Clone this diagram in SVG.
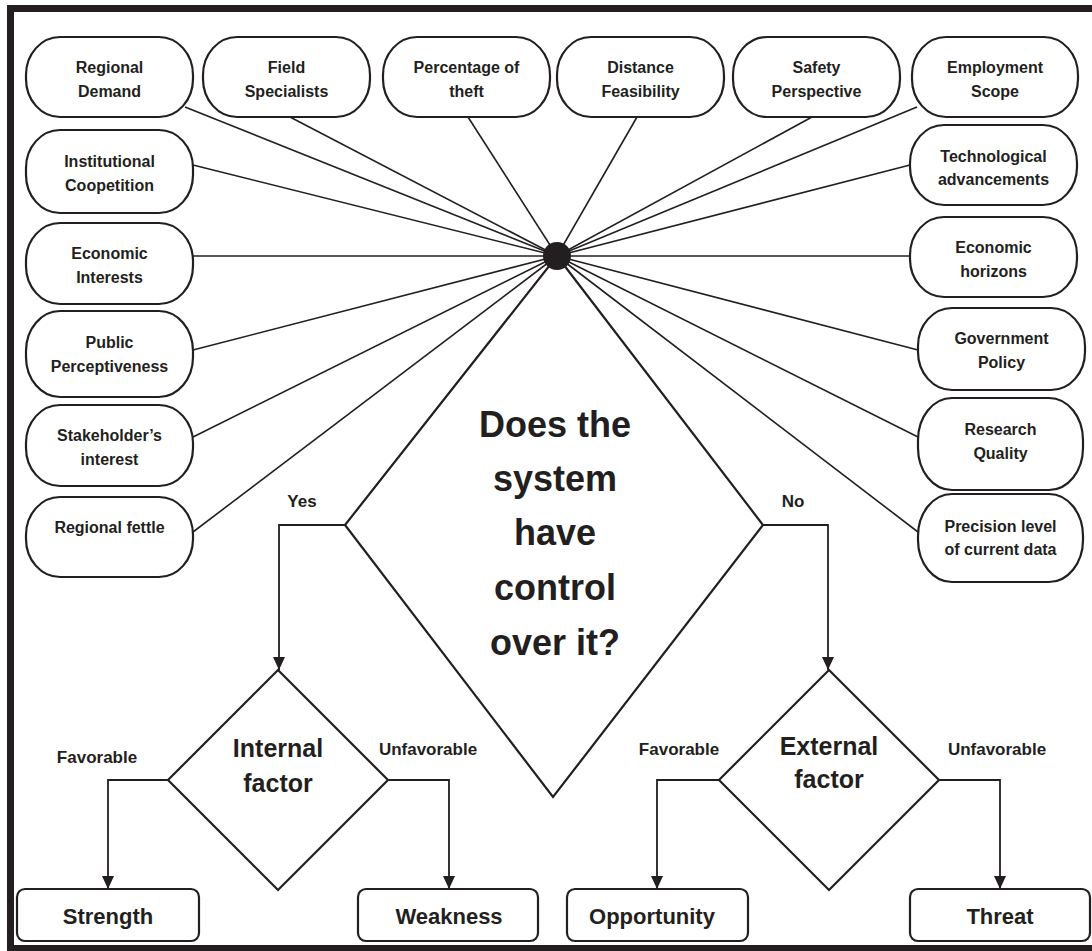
<svg xmlns="http://www.w3.org/2000/svg" width="1092" height="951" viewBox="0 0 1092 951">
<style>
.n{fill:#fff;stroke:#231f20;stroke-width:2.2}
.t{font-family:"Liberation Sans",Arial,sans-serif;font-weight:bold;fill:#231f20;text-anchor:middle}
.s{font-size:16px}
.l{font-size:17px}
.b{font-size:22px}
.f{font-size:25px}
.q{font-size:36px}
.c{stroke:#231f20;stroke-width:1.6;fill:none}
.d{stroke:#231f20;stroke-width:2.2;fill:none}
.a{stroke:#231f20;stroke-width:1.8;fill:none;marker-end:url(#ah)}
</style>
<defs>
<marker id="ah" viewBox="0 0 13 12" refX="13" refY="6" markerWidth="13" markerHeight="12" markerUnits="userSpaceOnUse" orient="auto">
<path d="M0,0 L13,6 L0,12 z" fill="#231f20"/>
</marker>
</defs>
<rect width="1092" height="951" fill="#fff"/>
<rect x="10.5" y="8.5" width="1092" height="940" fill="none" stroke="#231f20" stroke-width="7"/>

<g id="connectors">
<line class="c" x1="185" y1="107" x2="557" y2="256"/>
<line class="c" x1="290" y1="117" x2="557" y2="256"/>
<line class="c" x1="468" y1="117" x2="557" y2="256"/>
<line class="c" x1="637" y1="117" x2="557" y2="256"/>
<line class="c" x1="812" y1="117" x2="557" y2="256"/>
<line class="c" x1="917" y1="107" x2="557" y2="256"/>
<line class="c" x1="193" y1="165" x2="557" y2="256"/>
<line class="c" x1="193" y1="256" x2="557" y2="256"/>
<line class="c" x1="193" y1="350" x2="557" y2="256"/>
<line class="c" x1="193" y1="437" x2="557" y2="256"/>
<line class="c" x1="193" y1="532" x2="557" y2="256"/>
<line class="c" x1="910" y1="165" x2="557" y2="256"/>
<line class="c" x1="910" y1="256" x2="557" y2="256"/>
<line class="c" x1="918" y1="350" x2="557" y2="256"/>
<line class="c" x1="918" y1="437" x2="557" y2="256"/>
<line class="c" x1="918" y1="532" x2="557" y2="256"/>
<path class="a" d="M345,525 H279 V670"/>
<path class="a" d="M763,525 H828 V670"/>
<path class="a" d="M169,780 H108 V889"/>
<path class="a" d="M388,780 H449 V889"/>
<path class="a" d="M719,780 H657 V889"/>
<path class="a" d="M939,780 H1000 V889"/>
</g>

<g id="hub"><circle cx="557" cy="256" r="14" fill="#231f20"/></g>

<g id="decision">
<path class="d" d="M557,256 L763,525 L553,797 L345,525 Z"/>
<text class="t q" x="555" y="437">Does the</text>
<text class="t q" x="555" y="491">system</text>
<text class="t q" x="555" y="545">have</text>
<text class="t q" x="555" y="600">control</text>
<text class="t q" x="555" y="655">over it?</text>
</g>

<g id="labels">
<text class="t l" x="302" y="507">Yes</text>
<text class="t l" x="793" y="507">No</text>
<text class="t l" x="97" y="763">Favorable</text>
<text class="t l" x="428" y="755">Unfavorable</text>
<text class="t l" x="679" y="755">Favorable</text>
<text class="t l" x="997" y="755">Unfavorable</text>
</g>

<g id="internal">
<path class="d" d="M278,670 L388,780 L278,890 L168,780 Z"/>
<text class="t f" x="278" y="757">Internal</text>
<text class="t f" x="278" y="792">factor</text>
</g>
<g id="external">
<path class="d" d="M829,670 L939,780 L829,890 L719,780 Z"/>
<text class="t f" x="829" y="755">External</text>
<text class="t f" x="829" y="788">factor</text>
</g>

<g id="strength"><rect class="n" x="17" y="889" width="182" height="52" rx="8"/><text class="t b" x="108" y="924">Strength</text></g>
<g id="weakness"><rect class="n" x="358" y="889" width="180" height="52" rx="8"/><text class="t b" x="449" y="924">Weakness</text></g>
<g id="opportunity"><rect class="n" x="567" y="889" width="181" height="52" rx="8"/><text class="t b" x="652" y="924">Opportunity</text></g>
<g id="threat"><rect class="n" x="910" y="889" width="180" height="52" rx="8"/><text class="t b" x="1000" y="924">Threat</text></g>

<g id="regional-demand"><rect class="n" x="26" y="37" width="167" height="80" rx="34" ry="38"/><text class="t s" x="109.5" y="73">Regional</text><text class="t s" x="109.5" y="97">Demand</text></g>
<g id="field-specialists"><rect class="n" x="203" y="37" width="167" height="80" rx="34" ry="38"/><text class="t s" x="286.5" y="73">Field</text><text class="t s" x="286.5" y="97">Specialists</text></g>
<g id="percentage-of-theft"><rect class="n" x="383" y="37" width="167" height="80" rx="34" ry="38"/><text class="t s" x="466.5" y="73">Percentage of</text><text class="t s" x="466.5" y="97">theft</text></g>
<g id="distance-feasibility"><rect class="n" x="557" y="37" width="167" height="80" rx="34" ry="38"/><text class="t s" x="640.5" y="73">Distance</text><text class="t s" x="640.5" y="97">Feasibility</text></g>
<g id="safety-perspective"><rect class="n" x="733" y="37" width="167" height="80" rx="34" ry="38"/><text class="t s" x="816.5" y="73">Safety</text><text class="t s" x="816.5" y="97">Perspective</text></g>
<g id="employment-scope"><rect class="n" x="912" y="37" width="166" height="80" rx="34" ry="38"/><text class="t s" x="995" y="73">Employment</text><text class="t s" x="995" y="97">Scope</text></g>

<g id="institutional-coopetition"><rect class="n" x="26" y="130" width="167" height="83" rx="34" ry="38"/><text class="t s" x="109.5" y="167">Institutional</text><text class="t s" x="109.5" y="191">Coopetition</text></g>
<g id="economic-interests"><rect class="n" x="26" y="223" width="167" height="81" rx="34" ry="38"/><text class="t s" x="109.5" y="259">Economic</text><text class="t s" x="109.5" y="283">Interests</text></g>
<g id="public-perceptiveness"><rect class="n" x="26" y="311" width="167" height="86" rx="34" ry="40"/><text class="t s" x="109.5" y="348">Public</text><text class="t s" x="109.5" y="372">Perceptiveness</text></g>
<g id="stakeholders-interest"><rect class="n" x="26" y="405" width="167" height="81" rx="34" ry="38"/><text class="t s" x="109.5" y="441">Stakeholder’s</text><text class="t s" x="109.5" y="465">interest</text></g>
<g id="regional-fettle"><rect class="n" x="26" y="497" width="167" height="80" rx="34" ry="38"/><text class="t s" x="109.5" y="533">Regional fettle</text></g>

<g id="technological-advancements"><rect class="n" x="910" y="125" width="167" height="80" rx="34" ry="38"/><text class="t s" x="993.5" y="162">Technological</text><text class="t s" x="993.5" y="185">advancements</text></g>
<g id="economic-horizons"><rect class="n" x="910" y="217" width="167" height="80" rx="34" ry="38"/><text class="t s" x="993.5" y="253">Economic</text><text class="t s" x="993.5" y="277">horizons</text></g>
<g id="government-policy"><rect class="n" x="918" y="308" width="167" height="82" rx="34" ry="38"/><text class="t s" x="1001.5" y="344">Government</text><text class="t s" x="1001.5" y="368">Policy</text></g>
<g id="research-quality"><rect class="n" x="918" y="398" width="165" height="92" rx="34" ry="42"/><text class="t s" x="1000.5" y="435">Research</text><text class="t s" x="1000.5" y="459">Quality</text></g>
<g id="precision-level"><rect class="n" x="918" y="494" width="165" height="88" rx="34" ry="42"/><text class="t s" x="1000.5" y="532">Precision level</text><text class="t s" x="1000.5" y="555">of current data</text></g>
</svg>
